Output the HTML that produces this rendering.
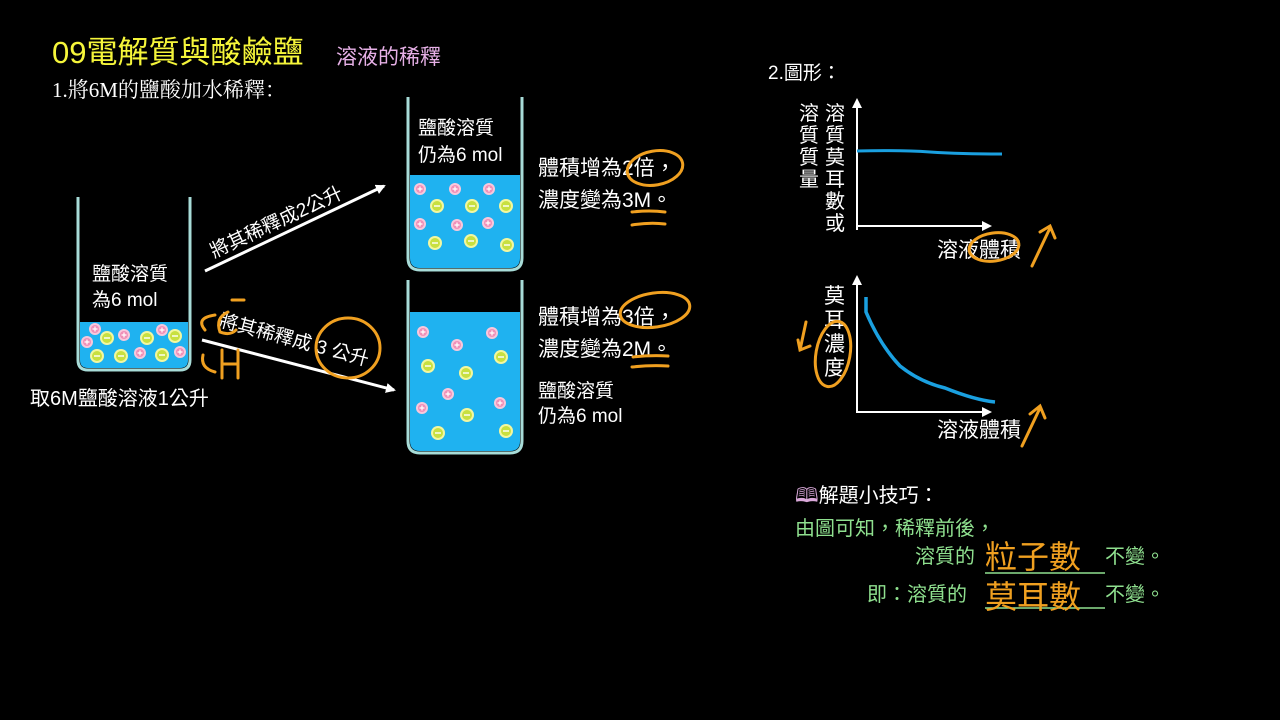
<!DOCTYPE html>
<html><head><meta charset="utf-8"><style>
html,body{margin:0;padding:0;background:#000;}
svg{display:block}
text{font-family:"Liberation Sans","Noto Sans CJK TC",sans-serif;}
</style></head><body>
<svg width="1280" height="720" viewBox="0 0 1280 720" xmlns="http://www.w3.org/2000/svg">
<defs>
<g id="p"><circle r="6" fill="#f7c8dc"/><circle r="4" fill="#f090b8"/><path d="M-2.5 0H2.5M0 -2.5V2.5" stroke="#fff" stroke-width="1.2"/></g>
<g id="n"><circle r="7" fill="#f2f7a0"/><circle r="5" fill="#c8e040"/><path d="M-3 0H3" stroke="#fff" stroke-width="1.4"/></g>
<marker id="ah" markerWidth="10" markerHeight="10" refX="8" refY="5" orient="auto" markerUnits="userSpaceOnUse"><path d="M0 0L10 5L0 10z" fill="#fff"/></marker>
</defs>
<rect width="1280" height="720" fill="#000"/>

<text x="52" y="63" font-size="31" fill="#f5f53a">09電解質與酸鹼鹽</text>
<text x="336" y="64" font-size="21" fill="#e6b0e6">溶液的稀釋</text>
<text x="52" y="97" font-size="21" fill="#fff" style="font-family:'Liberation Serif','Noto Serif CJK SC',serif">1.將6M的鹽酸加水稀釋：</text>

<!-- left beaker -->
<path d="M80 322H188V360Q188 368 180 368H88Q80 368 80 360Z" fill="#1fb2f0"/>
<path d="M78 197V360Q78 370 88 370H180Q190 370 190 360V197" fill="none" stroke="#a8dcd8" stroke-width="3"/>
<g>
<use href="#p" x="95" y="329"/><use href="#p" x="124" y="335"/><use href="#p" x="162" y="330"/><use href="#p" x="87" y="342"/><use href="#p" x="140" y="353"/><use href="#p" x="180" y="352"/>
<use href="#n" x="107" y="338"/><use href="#n" x="147" y="338"/><use href="#n" x="175" y="336"/><use href="#n" x="97" y="356"/><use href="#n" x="121" y="356"/><use href="#n" x="162" y="355"/>
</g>
<text x="92" y="280" font-size="19" fill="#fff">鹽酸溶質</text>
<text x="92" y="306" font-size="19" fill="#fff">為6 mol</text>
<text x="30" y="405" font-size="20" fill="#fff">取6M鹽酸溶液1公升</text>

<!-- top right beaker -->
<path d="M410 175H520V258Q520 268 510 268H420Q410 268 410 258Z" fill="#1fb2f0"/>
<path d="M408 97V258Q408 270 420 270H510Q522 270 522 258V97" fill="none" stroke="#a8dcd8" stroke-width="3"/>
<use href="#p" x="420" y="189"/><use href="#p" x="455" y="189"/><use href="#p" x="489" y="189"/><use href="#p" x="420" y="224"/><use href="#p" x="457" y="225"/><use href="#p" x="488" y="223"/>
<use href="#n" x="437" y="206"/><use href="#n" x="472" y="206"/><use href="#n" x="506" y="206"/><use href="#n" x="435" y="243"/><use href="#n" x="471" y="241"/><use href="#n" x="507" y="245"/>
<text x="418" y="134" font-size="19" fill="#fff">鹽酸溶質</text>
<text x="418" y="161" font-size="19" fill="#fff">仍為6 mol</text>

<!-- bottom right beaker -->
<path d="M410 312H520V441Q520 451 510 451H420Q410 451 410 441Z" fill="#1fb2f0"/>
<path d="M408 280V441Q408 453 420 453H510Q522 453 522 441V280" fill="none" stroke="#a8dcd8" stroke-width="3"/>
<use href="#p" x="423" y="332"/><use href="#p" x="492" y="333"/><use href="#p" x="457" y="345"/><use href="#p" x="448" y="394"/><use href="#p" x="422" y="408"/><use href="#p" x="500" y="403"/>
<use href="#n" x="428" y="366"/><use href="#n" x="466" y="373"/><use href="#n" x="501" y="357"/><use href="#n" x="467" y="415"/><use href="#n" x="438" y="433"/><use href="#n" x="506" y="431"/>

<!-- arrows -->
<line x1="205" y1="271" x2="384" y2="186" stroke="#fff" stroke-width="3" marker-end="url(#ah)"/>
<text transform="translate(214,258) rotate(-25)" font-size="19" fill="#fff">將其稀釋成2公升</text>
<line x1="202" y1="340" x2="394" y2="390" stroke="#fff" stroke-width="3" marker-end="url(#ah)"/>
<text transform="translate(218,326) rotate(15)" font-size="19" fill="#fff">將其稀釋成 3 公升</text>

<!-- right texts -->
<text x="538" y="175" font-size="21" fill="#fff">體積增為2倍，</text>
<text x="538" y="207" font-size="21" fill="#fff">濃度變為3M。</text>
<text x="538" y="324" font-size="21" fill="#fff">體積增為3倍，</text>
<text x="538" y="356" font-size="21" fill="#fff">濃度變為2M。</text>
<text x="538" y="397" font-size="19" fill="#fff">鹽酸溶質</text>
<text x="538" y="422" font-size="19" fill="#fff">仍為6 mol</text>

<!-- graphs -->
<text x="768" y="79" font-size="19" fill="#fff">2.圖形：</text>
<g stroke="#fff" stroke-width="2" fill="none">
<line x1="857" y1="230" x2="857" y2="100" marker-end="url(#ah)"/>
<line x1="856" y1="226" x2="990" y2="226" marker-end="url(#ah)"/>
<line x1="857" y1="412" x2="857" y2="277" marker-end="url(#ah)"/>
<line x1="856" y1="412" x2="990" y2="412" marker-end="url(#ah)"/>
</g>
<path d="M857 151Q900 150 930 152T1002 154" stroke="#1aa0e0" stroke-width="3" fill="none"/>
<path d="M866 297V312Q880 345 900 366Q920 382 945 388Q975 400 995 402" stroke="#1aa0e0" stroke-width="3.5" fill="none"/>
<g font-size="20" fill="#fff">
<text x="799" y="120">溶</text><text x="799" y="142">質</text><text x="799" y="164">質</text><text x="799" y="186">量</text>
<text x="825" y="120">溶</text><text x="825" y="142">質</text><text x="825" y="164">莫</text><text x="825" y="186">耳</text><text x="825" y="208">數</text><text x="825" y="230">或</text>
<text x="824" y="303" font-size="21">莫</text><text x="824" y="327" font-size="21">耳</text><text x="824" y="351" font-size="21">濃</text><text x="824" y="375" font-size="21">度</text>
<text x="937" y="257" font-size="21">溶液體積</text>
<text x="937" y="437" font-size="21">溶液體積</text>
</g>

<!-- tips -->
<text x="795" y="502" font-size="20" fill="#fff"><tspan fill="#d9a8d9">🕮</tspan>解題小技巧：</text>
<text x="795" y="535" font-size="20" fill="#8fe08f">由圖可知，稀釋前後，</text>
<text x="915" y="563" font-size="20" fill="#8fe08f">溶質的</text>
<text x="1105" y="563" font-size="20" fill="#8fe08f">不變。</text>
<text x="867" y="601" font-size="20" fill="#8fe08f">即：溶質的</text>
<text x="1105" y="601" font-size="20" fill="#8fe08f">不變。</text>
<line x1="985" y1="573" x2="1105" y2="573" stroke="#8fe08f" stroke-width="1.5"/>
<line x1="985" y1="608" x2="1105" y2="608" stroke="#8fe08f" stroke-width="1.5"/>
<text x="985" y="568" font-size="32" fill="#f0a020" style="font-family:'Noto Sans CJK TC',sans-serif">粒子數</text>
<text x="985" y="608" font-size="32" fill="#f0a020" style="font-family:'Noto Sans CJK TC',sans-serif">莫耳數</text>

<!-- orange annotations -->
<g stroke="#f0a020" stroke-width="3" fill="none" stroke-linecap="round">
<ellipse cx="655" cy="168" rx="28" ry="17" transform="rotate(-10 655 168)"/>
<path d="M632 212Q650 210 665 212M632 225Q650 222 665 224"/>
<ellipse cx="655" cy="310" rx="35" ry="17" transform="rotate(-8 655 310)"/>
<path d="M633 357Q650 355 668 356M632 367Q650 365 668 366"/>
<ellipse cx="348" cy="348" rx="32" ry="30"/>
<path d="M205 330Q195 318 215 315M203 355Q200 368 215 372"/>
<path d="M222 350V378M238 350V378M222 364H238"/>
<path d="M228 312Q215 318 220 332Q230 336 236 330M232 300H244"/>
<ellipse cx="994" cy="247" rx="25" ry="14" transform="rotate(-8 994 247)"/>
<path d="M1032 266L1050 228M1040 232L1050 226L1055 238"/>
<path d="M1022 446L1040 408M1030 414L1040 406L1045 418"/>
<ellipse cx="833" cy="354" rx="17" ry="33" transform="rotate(10 833 354)"/>
<path d="M806 322L800 350M798 340L800 350L810 346"/>
</g>
</svg>
</body></html>
